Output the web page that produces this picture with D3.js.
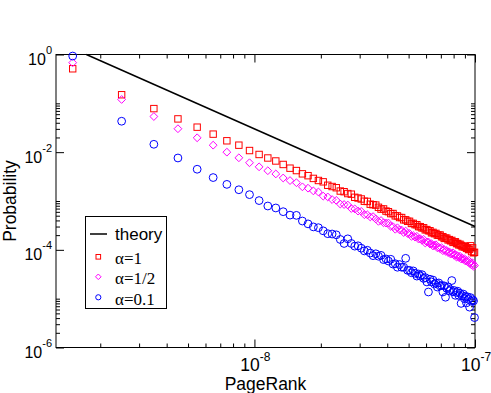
<!DOCTYPE html>
<html>
<head>
<meta charset="utf-8">
<script src="https://cdn.jsdelivr.net/npm/d3@7"></script>
<style>
  body { margin: 0; background: #fff; }
  svg { display: block; }
  text { font-family: "Liberation Sans", Arial, sans-serif; }
</style>
</head>
<body>
<svg width="491" height="393"></svg>
<script>
// PageRank bin centres (units of 1e-9)
const rankBins = [
  1.5, 2.5, 3.5, 4.5, 5.5, 6.5, 7.5, 8.5, 9.5, 10.5, 11.5, 12.5, 13.5, 14.5, 15.5, 16.5, 17.5, 18.5, 19.5, 20.5,
  21.5, 22.5, 23.5, 24.5, 25.5, 26.5, 27.5, 28.5, 29.5, 30.5, 31.5, 32.5, 33.5, 34.5, 35.5, 36.5, 37.5, 38.5, 39.5, 40.5,
  41.5, 42.5, 43.5, 44.5, 45.5, 46.5, 47.5, 48.5, 49.5, 50.5, 51.5, 52.5, 53.5, 54.5, 55.5, 56.5, 57.5, 58.5, 59.5, 60.5,
  61.5, 62.5, 63.5, 64.5, 65.5, 66.5, 67.5, 68.5, 69.5, 70.5, 71.5, 72.5, 73.5, 74.5, 75.5, 76.5, 77.5, 78.5, 79.5, 80.5,
  81.5, 82.5, 83.5, 84.5, 85.5, 86.5, 87.5, 88.5, 89.5, 90.5, 91.5, 92.5, 93.5, 94.5, 95.5, 96.5, 97.5, 98.5, 99.5
];
const rankUnit = 1e-9;

// alpha = 1 (red squares)
const probAlpha1 = [
  5.1e-1, 1.5e-1, 7.8e-2, 4.8e-2, 3.25e-2, 2.34e-2, 1.71e-2, 1.39e-2, 1.08e-2, 8.97e-3, 7.6e-3, 6.6e-3, 5.6e-3,
  4.7e-3, 4.2e-3, 3.6e-3, 3.3e-3, 2.9e-3, 2.63e-3, 2.47e-3, 2.10e-3, 1.98e-3, 1.87e-3, 1.60e-3, 1.55e-3, 1.42e-3,
  1.38e-3, 1.19e-3, 1.15e-3, 1.10e-3, 9.9e-4, 9.8e-4, 8.6e-4, 8.4e-4, 8.25e-4, 7.43e-4, 6.83e-4, 6.88e-4, 6.22e-4,
  6.04e-4, 5.52e-4, 5.54e-4, 4.97e-4, 4.95e-4, 4.59e-4, 4.58e-4, 4.12e-4, 4.12e-4, 3.84e-4, 3.84e-4, 3.47e-4, 3.48e-4,
  3.28e-4, 3.27e-4, 2.99e-4, 2.98e-4, 2.81e-4, 2.83e-4, 2.57e-4, 2.60e-4, 2.46e-4, 2.46e-4, 2.23e-4, 2.28e-4, 2.14e-4,
  2.17e-4, 2.00e-4, 2.00e-4, 2.01e-4, 1.85e-4, 1.86e-4, 1.71e-4, 1.74e-4, 1.73e-4, 1.60e-4, 1.62e-4, 1.53e-4, 1.56e-4,
  1.42e-4, 1.45e-4, 1.46e-4, 1.34e-4, 1.35e-4, 1.26e-4, 1.30e-4, 1.23e-4, 1.16e-4, 1.20e-4, 1.14e-4, 1.16e-4, 1.07e-4,
  1.09e-4, 1.01e-4, 1.03e-4, 1.21e-4, 9.2e-5, 1.10e-4, 8.7e-5, 8.9e-5
];

// alpha = 1/2 (magenta diamonds)
const probAlphaHalf = [
  6.8e-1, 1.2e-1, 5.37e-2, 3.02e-2, 1.97e-2, 1.39e-2, 1.0e-2, 7.67e-3, 6.07e-3, 5.01e-3, 4.17e-3,
  3.58e-3, 2.96e-3, 2.62e-3, 2.37e-3, 1.95e-3, 1.83e-3, 1.61e-3, 1.53e-3, 1.26e-3, 1.21e-3,
  1.07e-3, 1.03e-3, 8.66e-4, 8.46e-4, 8.26e-4, 7.01e-4, 6.89e-4, 6.21e-4, 6.13e-4, 5.24e-4,
  5.21e-4, 4.72e-4, 4.79e-4, 4.28e-4, 3.83e-4, 3.98e-4, 3.58e-4, 3.53e-4, 3.54e-4, 3.02e-4,
  2.99e-4, 2.64e-4, 2.83e-4, 2.56e-4, 2.54e-4, 2.26e-4, 2.42e-4, 2.16e-4, 2.16e-4, 1.89e-4,
  1.96e-4, 1.82e-4, 1.89e-4, 1.66e-4, 1.69e-4, 1.57e-4, 1.64e-4, 1.38e-4, 1.45e-4, 1.45e-4,
  1.31e-4, 1.34e-4, 1.20e-4, 1.24e-4, 1.27e-4, 1.10e-4, 1.13e-4, 1.06e-4, 1.11e-4, 9.6e-5,
  1.01e-4, 9.4e-5, 9.7e-5, 8.8e-5, 9.1e-5, 8.2e-5, 8.4e-5, 8.7e-5, 7.7e-5, 8.0e-5,
  7.1e-5, 7.5e-5, 7.0e-5, 7.4e-5, 6.5e-5, 6.8e-5, 6.4e-5, 6.6e-5, 5.9e-5, 6.1e-5,
  5.7e-5, 6.1e-5, 5.3e-5, 5.5e-5, 4.9e-5, 5.4e-5, 4.6e-5, 4.8e-5
];

// alpha = 0.1 (blue circles)
const probAlpha01 = [
  9.3e-1, 4.3e-2, 1.45e-2, 7.6e-3, 4.47e-3, 3.02e-3, 2.19e-3, 1.70e-3, 1.35e-3, 1.02e-3, 7.9e-4, 7.2e-4,
  6.04e-4, 5.14e-4, 5.08e-4, 3.89e-4, 3.40e-4, 2.95e-4, 2.84e-4, 2.45e-4, 2.14e-4, 2.11e-4,
  2.03e-4, 1.63e-4, 1.35e-4, 1.68e-4, 1.35e-4, 1.19e-4, 1.21e-4, 1.08e-4, 9.5e-5, 9.8e-5,
  8.6e-5, 7.6e-5, 8.3e-5, 7.4e-5, 7.7e-5, 6.3e-5, 6.5e-5, 5.9e-5, 6.4e-5, 5.1e-5,
  5.2e-5, 4.4e-5, 5.0e-5, 4.4e-5, 4.4e-5, 6.7e-5, 3.8e-5, 3.8e-5, 3.4e-5, 3.7e-5,
  3.3e-5, 2.9e-5, 3.2e-5, 2.9e-5, 3.1e-5, 2.6e-5, 2.7e-5, 2.2e-5, 1.37e-5, 2.5e-5,
  2.2e-5, 2.4e-5, 2.0e-5, 2.1e-5, 1.73e-5, 2.1e-5, 1.82e-5, 1.87e-5, 1.37e-5, 1.83e-5,
  1.07e-5, 1.62e-5, 1.74e-5, 1.44e-5, 1.53e-5, 2.35e-5, 1.38e-5, 1.47e-5, 1.17e-5, 1.34e-5,
  1.42e-5, 1.16e-5, 1.29e-5, 8.0e-6, 1.15e-5, 1.24e-5, 1.0e-5, 1.11e-5, 8.2e-6, 1.09e-5,
  9.7e-6, 6.7e-6, 1.05e-5, 8.8e-6, 9.5e-6, 9.0e-6, 4.1e-6
];

// theory line endpoints
const theoryRank = [1.73e-9, 1e-7];
const theoryProb = [1, 3.0e-4];

const xMajor = [1e-8, 1e-7];
const xMajorExp = ['-8', '-7'];
const yMajor = [1, 1e-2, 1e-4, 1e-6];
const yMajorExp = ['0', '-2', '-4', '-6'];
const legendLabels = ['theory', 'α=1', 'α=1/2', 'α=0.1'];

const svg = d3.select('svg');
const plotL = 56, plotR = 475, plotT = 54.5, plotB = 347.5;

const x = d3.scaleLog().domain([1.26e-9, 1e-7]).range([plotL, plotR]);
const y = d3.scaleLog().domain([1e-6, 1]).range([plotB, plotT]);

// minor ticks: x every decade (2..9), y from each labelled tick (2..10)
const xMinor = [];
[1e-9, 1e-8].forEach(b => d3.range(2, 10).forEach(k => {
  const v = k * b;
  if (v > x.domain()[0] && v < x.domain()[1]) xMinor.push(v);
}));
const yMinor = [];
[1e-6, 1e-4, 1e-2].forEach(b => d3.range(2, 11).forEach(k => yMinor.push(k * b)));

function tickAxis(axisFn, scale, values, size, tr) {
  const g = svg.append('g')
    .attr('transform', tr)
    .call(axisFn(scale).tickValues(values).tickSize(size).tickFormat(''));
  g.select('.domain').remove();
  g.selectAll('line').attr('stroke', '#000');
  return g;
}
tickAxis(d3.axisBottom, x, xMajor, -8, `translate(0,${plotB})`);
tickAxis(d3.axisBottom, x, xMinor, -4, `translate(0,${plotB})`);
tickAxis(d3.axisTop, x, xMajor, -8, `translate(0,${plotT})`);
tickAxis(d3.axisTop, x, xMinor, -4, `translate(0,${plotT})`);
tickAxis(d3.axisLeft, y, yMajor, -8, `translate(${plotL},0)`);
tickAxis(d3.axisLeft, y, yMinor, -4, `translate(${plotL},0)`);
tickAxis(d3.axisRight, y, yMajor, -8, `translate(${plotR},0)`);
tickAxis(d3.axisRight, y, yMinor, -4, `translate(${plotR},0)`);

svg.append('rect')
  .attr('x', plotL).attr('y', plotT)
  .attr('width', plotR - plotL).attr('height', plotB - plotT)
  .attr('fill', 'none').attr('stroke', '#000').attr('stroke-width', 1);

// tick labels
yMajor.forEach((v, i) => {
  const t = svg.append('text')
    .attr('x', 52).attr('y', y(v) + 10.5)
    .attr('text-anchor', 'end')
    .attr('font-size', 16)
    .text('10');
  t.append('tspan').attr('dy', -11).attr('font-size', 11).text(yMajorExp[i]);
});
xMajor.forEach((v, i) => {
  const t = svg.append('text')
    .attr('x', x(v) + 1).attr('y', 370.5)
    .attr('text-anchor', 'middle')
    .attr('font-size', 17.5)
    .text('10');
  t.append('tspan').attr('dy', -9.5).attr('font-size', 12).text(xMajorExp[i]);
});

svg.append('text')
  .attr('x', 265.5).attr('y', 389.5)
  .attr('text-anchor', 'middle')
  .attr('font-size', 17.5)
  .text('PageRank');
svg.append('text')
  .attr('transform', 'translate(16,201) rotate(-90)')
  .attr('text-anchor', 'middle')
  .attr('font-size', 17.5)
  .text('Probability');

// theory line
const plot = svg.append('g');
plot.append('path')
  .datum(theoryRank.map((r, i) => [r, theoryProb[i]]))
  .attr('fill', 'none').attr('stroke', '#000').attr('stroke-width', 1.5)
  .attr('d', d3.line().x(d => x(d[0])).y(d => y(d[1])));

const pts = arr => rankBins.map((r, i) => [r * rankUnit, arr[i]]);

plot.append('g').selectAll('rect')
  .data(pts(probAlpha1)).join('rect')
  .attr('x', d => x(d[0]) - 3.2).attr('y', d => y(d[1]) - 3.2)
  .attr('width', 6.4).attr('height', 6.4)
  .attr('fill', 'none').attr('stroke', '#ff0000').attr('stroke-width', 1);

const diamond = (cx, cy, r) => `M${cx},${cy - r}L${cx + r},${cy}L${cx},${cy + r}L${cx - r},${cy}Z`;
plot.append('g').selectAll('path')
  .data(pts(probAlphaHalf)).join('path')
  .attr('d', d => diamond(x(d[0]), y(d[1]), 3.9))
  .attr('fill', 'none').attr('stroke', '#ff00ff').attr('stroke-width', 1);

plot.append('g').selectAll('circle')
  .data(pts(probAlpha01)).join('circle')
  .attr('cx', d => x(d[0])).attr('cy', d => y(d[1])).attr('r', 3.9)
  .attr('fill', 'none').attr('stroke', '#0000ff').attr('stroke-width', 1);

// legend
const lg = svg.append('g');
lg.append('rect')
  .attr('x', 85.5).attr('y', 216.5).attr('width', 81).attr('height', 92)
  .attr('fill', '#fff').attr('stroke', '#000').attr('stroke-width', 1);
lg.append('line')
  .attr('x1', 90).attr('x2', 107).attr('y1', 234).attr('y2', 234)
  .attr('stroke', '#000').attr('stroke-width', 1.5);
const baselines = [240, 263.5, 284, 304.5];
legendLabels.forEach((lab, i) => {
  lg.append('text')
    .attr('x', 115).attr('y', baselines[i])
    .attr('font-size', 17)
    .style('font-family', i === 0 ? '"Liberation Sans", Arial, sans-serif' : '"Liberation Serif", "Times New Roman", serif')
    .text(lab);
});
lg.append('rect')
  .attr('x', 96).attr('y', 254.5).attr('width', 4.6).attr('height', 4.6)
  .attr('fill', 'none').attr('stroke', '#ff0000');
lg.append('path')
  .attr('d', diamond(98.3, 276.8, 2.8))
  .attr('fill', 'none').attr('stroke', '#ff00ff');
lg.append('circle')
  .attr('cx', 98.3).attr('cy', 297.3).attr('r', 2.6)
  .attr('fill', 'none').attr('stroke', '#0000ff');
</script>
</body>
</html>
